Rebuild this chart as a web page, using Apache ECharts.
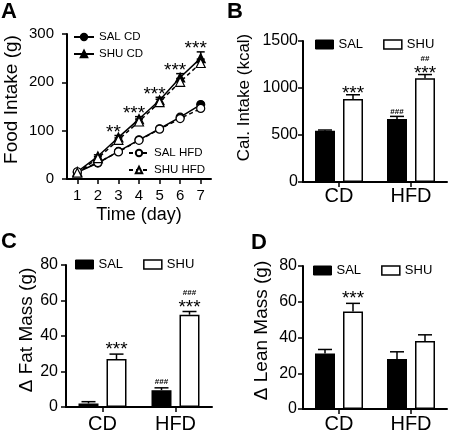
<!DOCTYPE html>
<html><head><meta charset="utf-8">
<script src="https://cdn.jsdelivr.net/npm/echarts@6/dist/echarts.min.js"></script>
<style>html,body{margin:0;padding:0;background:#fff}#c{width:450px;height:434px}</style>
</head><body><div id="c"></div>
<script>
// ---------- Panel A data ----------
const days = ['1', '2', '3', '4', '5', '6', '7'];
const salCD  = [14, 33, 57, 81, 104, 128, 154];
const shuCD  = [15, 47, 86, 124, 163, 210, 250];
const salHFD = [15, 34, 56, 80, 103, 125, 146];
const shuHFD = [13, 43, 81, 119, 159, 201, 240];
const shuCDErr  = [2, 3, 4, 5, 6, 8, 13];
const shuHFDErr = [2, 3, 4, 5, 6, 7, 8];
const starsA = ['', '', '**', '***', '***', '***', '***'];

// ---------- Bar panels ----------
const groups = ['CD', 'HFD'];
// B: Cal. Intake (kcal)
const calSAL = [545, 670], calSALErr = [8, 28];
const calSHU = [883, 1103], calSHUErr = [45, 40];
const calSALHash = ['', '###'], calSHUStars = ['***', '***'], calSHUHash = ['', '##'];
// C: Δ Fat Mass (g)
const fatSAL = [2, 9.5], fatSALErr = [1, 1.3];
const fatSHU = [27, 52], fatSHUErr = [2.8, 1.8];
const fatSALHash = ['', '###'], fatSHUStars = ['***', '***'], fatSHUHash = ['', '###'];
// D: Δ Lean Mass (g)
const leanSAL = [31, 28], leanSALErr = [2.3, 4];
const leanSHU = [54.5, 38], leanSHUErr = [4.6, 3.5];
const leanSALHash = ['', ''], leanSHUStars = ['***', ''], leanSHUHash = ['', ''];

const FONT = '"Liberation Sans", Arial, Helvetica, sans-serif';
const BLACK = '#000';

function yAx(gi, max, interval, name, nameGap, nameSize, labelSize, margin, shiftUp) {
  return {
    type: 'value', gridIndex: gi, min: 0, max: max, interval: interval,
    name: name, nameLocation: 'middle', nameGap: nameGap,
    nameTextStyle: { fontSize: nameSize, fontFamily: FONT, color: BLACK, padding: [0, 0, 0, 2 * shiftUp] },
    axisLine: { show: true, lineStyle: { color: BLACK, width: 2 } },
    axisTick: { show: true, length: 5, lineStyle: { color: BLACK, width: 1.5 } },
    axisLabel: { fontSize: labelSize, fontFamily: FONT, color: BLACK, margin: margin, formatter: v => String(v) },
    splitLine: { show: false }
  };
}
function xAx(gi, data, labelSize, margin, name, nameGap) {
  return {
    type: 'category', gridIndex: gi, data: data, boundaryGap: true,
    name: name || '', nameLocation: 'middle', nameGap: nameGap || 0,
    nameTextStyle: { fontSize: 18, fontFamily: FONT, color: BLACK },
    axisLine: { show: true, lineStyle: { color: BLACK, width: 2 } },
    axisTick: { show: true, alignWithLabel: true, length: 5, lineStyle: { color: BLACK, width: 1.5 } },
    axisLabel: { fontSize: labelSize, fontFamily: FONT, color: BLACK, margin: margin, interval: 0 },
    splitLine: { show: false }
  };
}

function errSeries(ai, vals, errs, dx, capW) {
  return {
    type: 'custom', xAxisIndex: ai, yAxisIndex: ai, z: 5, silent: true, clip: false,
    data: vals.map((v, i) => [i, v, errs[i]]),
    renderItem: function (params, api) {
      const i = api.value(0), v = api.value(1), e = api.value(2);
      const p0 = api.coord([i, v]), p1 = api.coord([i, v + e]);
      const x = p0[0] + dx;
      return { type: 'group', children: [
        { type: 'line', shape: { x1: x, y1: p0[1], x2: x, y2: p1[1] }, style: { stroke: BLACK, lineWidth: 1.5 } },
        { type: 'line', shape: { x1: x - capW / 2, y1: p1[1], x2: x + capW / 2, y2: p1[1] }, style: { stroke: BLACK, lineWidth: 1.5 } }
      ] };
    }
  };
}

function txt(x, y, text, size, bold) {
  return { type: 'text', x: x, y: y,
    style: { text: text, fill: BLACK, fontSize: size, fontFamily: FONT, fontWeight: bold ? 'bold' : 'normal',
      align: 'center', verticalAlign: 'middle', textAlign: 'center', textVerticalAlign: 'middle' } };
}

// annotation: stars then hashes above
function annSeries(ai, tops, stars, hashes, dx, gap) {
  return {
    type: 'custom', xAxisIndex: ai, yAxisIndex: ai, z: 6, silent: true, clip: false,
    data: tops.map((t, i) => [i, t]),
    renderItem: function (params, api) {
      const i = api.value(0), t = api.value(1);
      const p = api.coord([i, t]);
      const x = p[0] + dx;
      let y = p[1] - gap;
      const ch = [];
      const s = stars[i], h = hashes[i];
      if (s) { ch.push(txt(x, y + 5, s, 19)); y -= 10; }
      if (h) { ch.push(txt(x, y + (s ? 0 : 1), h, 8, true)); }
      return { type: 'group', children: ch };
    }
  };
}

const barW = 20, barGap = '40%', off = 14;

function barPair(ai, sal, shu) {
  return [
    { type: 'bar', name: 'SAL', xAxisIndex: ai, yAxisIndex: ai, data: sal, barWidth: barW, barGap: barGap,
      itemStyle: { color: BLACK, borderColor: BLACK, borderWidth: 1.5 }, z: 3 },
    { type: 'bar', name: 'SHU', xAxisIndex: ai, yAxisIndex: ai, data: shu, barWidth: barW, barGap: barGap,
      itemStyle: { color: '#fff', borderColor: BLACK, borderWidth: 1.5 }, z: 3 }
  ];
}
function barLegend(left, top) {
  return {
    left: left, top: top, padding: 0, itemWidth: 18, itemHeight: 9, itemGap: 20, selectedMode: false,
    textStyle: { fontSize: 13, fontFamily: FONT, color: BLACK },
    data: [
      { name: 'SAL', icon: 'rect', itemStyle: { color: BLACK, borderColor: BLACK, borderWidth: 1 } },
      { name: 'SHU', icon: 'rect', itemStyle: { color: '#fff', borderColor: BLACK, borderWidth: 1.5 } }
    ]
  };
}
function sum(a, b) { return a.map((v, i) => v + b[i]); }

const topA = shuCD.map((v, i) => Math.max(v + shuCDErr[i], shuHFD[i] + shuHFDErr[i]));

const lineCommon = { xAxisIndex: 0, yAxisIndex: 0, type: 'line', symbolSize: 8 };
const lineLegend = { orient: 'vertical', padding: 0, itemWidth: 20, itemHeight: 8, itemGap: 5, selectedMode: false,
  textStyle: { fontSize: 11.5, fontFamily: FONT, color: BLACK } };

const option = {
  animation: false,
  backgroundColor: '#fff',
  textStyle: { fontFamily: FONT },
  grid: [
    { left: 67, top: 34, width: 144, height: 145 },
    { left: 303, top: 41, width: 144, height: 141 },
    { left: 66, top: 265, width: 146, height: 145 },
    { left: 303, top: 266, width: 144, height: 144 }
  ],
  xAxis: [
    xAx(0, days, 15, 9, 'Time (day)', 27),
    xAx(1, groups, 20, 4),
    xAx(2, groups, 20, 7),
    xAx(3, groups, 20, 5)
  ],
  yAxis: [
    yAx(0, 300, 100, 'Food Intake (g)', 46, 19, 15, 13, 7),
    yAx(1, 1500, 500, 'Cal. Intake (kcal)', 50, 17, 16, 5, 14),
    yAx(2, 80, 20, 'Δ Fat Mass (g)', 24, 19, 16, 8, 6),
    yAx(3, 80, 20, 'Δ Lean Mass (g)', 32, 19, 16, 6, 7)
  ],
  legend: [
    Object.assign({ left: 73, top: 31, data: ['SAL CD', 'SHU CD'] }, lineLegend),
    Object.assign({ left: 128, top: 147, data: ['SAL HFD', 'SHU HFD'] }, lineLegend),
    barLegend(315, 38),
    barLegend(75, 258),
    barLegend(313, 264)
  ],
  graphic: [
    { type: 'text', left: 1, top: 1, style: { text: 'A', fontSize: 22, fontWeight: 'bold', fontFamily: FONT, fill: BLACK } },
    { type: 'text', left: 227, top: 1, style: { text: 'B', fontSize: 22, fontWeight: 'bold', fontFamily: FONT, fill: BLACK } },
    { type: 'text', left: 1, top: 231, style: { text: 'C', fontSize: 22, fontWeight: 'bold', fontFamily: FONT, fill: BLACK } },
    { type: 'text', left: 251, top: 232, style: { text: 'D', fontSize: 22, fontWeight: 'bold', fontFamily: FONT, fill: BLACK } }
  ],
  series: [
    errSeries(0, shuCD, shuCDErr, 0, 8),
    errSeries(0, shuHFD, shuHFDErr, 0, 8),
    Object.assign({}, lineCommon, { name: 'SAL CD', data: salCD, symbol: 'circle', z: 7,
      lineStyle: { color: BLACK, width: 1.5 }, itemStyle: { color: BLACK, borderColor: BLACK, borderWidth: 1.2 } }),
    Object.assign({}, lineCommon, { name: 'SHU CD', data: shuCD, symbol: 'triangle', symbolSize: 9, z: 7,
      lineStyle: { color: BLACK, width: 1.5 }, itemStyle: { color: BLACK, borderColor: BLACK, borderWidth: 1.2 } }),
    Object.assign({}, lineCommon, { name: 'SAL HFD', data: salHFD, symbol: 'circle', z: 8,
      lineStyle: { color: BLACK, width: 1.5, type: [4, 3] }, itemStyle: { color: '#fff', borderColor: BLACK, borderWidth: 1.2 } }),
    Object.assign({}, lineCommon, { name: 'SHU HFD', data: shuHFD, symbol: 'triangle', symbolSize: 9, z: 8,
      lineStyle: { color: BLACK, width: 1.5, type: [4, 3] }, itemStyle: { color: '#fff', borderColor: BLACK, borderWidth: 1.2 } }),
    annSeries(0, topA, starsA, days.map(() => ''), -5, 8),

    ...barPair(1, calSAL, calSHU),
    errSeries(1, calSAL, calSALErr, -off, 14),
    errSeries(1, calSHU, calSHUErr, off, 14),
    annSeries(1, sum(calSAL, calSALErr), calSALHash.map(() => ''), calSALHash, -off, 6),
    annSeries(1, sum(calSHU, calSHUErr), calSHUStars, calSHUHash, off, 6),

    ...barPair(2, fatSAL, fatSHU),
    errSeries(2, fatSAL, fatSALErr, -off, 14),
    errSeries(2, fatSHU, fatSHUErr, off, 14),
    annSeries(2, sum(fatSAL, fatSALErr), fatSALHash.map(() => ''), fatSALHash, -off, 7),
    annSeries(2, sum(fatSHU, fatSHUErr), fatSHUStars, fatSHUHash, off, 9),

    ...barPair(3, leanSAL, leanSHU),
    errSeries(3, leanSAL, leanSALErr, -off, 14),
    errSeries(3, leanSHU, leanSHUErr, off, 14),
    annSeries(3, sum(leanSAL, leanSALErr), leanSALHash.map(() => ''), leanSALHash, -off, 7),
    annSeries(3, sum(leanSHU, leanSHUErr), leanSHUStars, leanSHUHash, off, 10)
  ]
};

const chart = echarts.init(document.getElementById('c'), null, { renderer: 'canvas' });
chart.setOption(option);
</script>
</body></html>
